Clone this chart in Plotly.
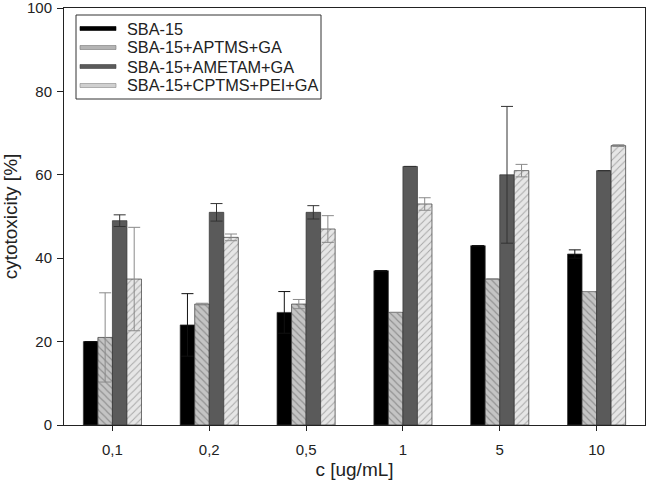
import plotly.graph_objects as go

categories = ["0,1", "0,2", "0,5", "1", "5", "10"]
series_names = ["SBA-15", "SBA-15+APTMS+GA", "SBA-15+AMETAM+GA", "SBA-15+CPTMS+PEI+GA"]
sba15 = [20, 24, 27, 37, 43, 41]
sba15_err = [0, 7.5, 5.0, 0, 0, 1.0]
aptms = [21, 29, 29, 27, 35, 32]
aptms_err = [10.7, 0.2, 1.1, 0, 0, 0]
ametam = [49, 51, 51, 62, 60, 61]
ametam_err = [1.4, 2.1, 1.6, 0, 16.4, 0]
cptms = [35, 45, 47, 53, 61, 67]
cptms_err = [12.4, 0.8, 3.2, 1.5, 1.5, 0.2]
y_ticks = [0, 20, 40, 60, 80, 100]

FONT = "Liberation Sans, Arial, sans-serif"
W, H = 647, 485
ML, MR, MT, MB = 64, 2, 8, 60
PW, PH = W - ML - MR, H - MT - MB


def px_x(px):
    return (px - ML) / PW


def px_y(py):
    return (H - MB - py) / PH


styles = [
    dict(color="#000000", pattern=None, err="#111111", leg="#000000", legline="#000000"),
    dict(color="#c4c4c4", pattern=dict(shape="\\", fgcolor="#5a5a5a", bgcolor="#c4c4c4", size=5, solidity=0.22), err="#8a8a8a", leg="#b4b4b4", legline="#777777"),
    dict(color="#5a5a5a", pattern=None, err="#333333", leg="#5a5a5a", legline="#444444"),
    dict(color="#e6e6e6", pattern=dict(shape="/", fgcolor="#6a6a6a", bgcolor="#e6e6e6", size=5, solidity=0.2), err="#8a8a8a", leg="#d0d0d0", legline="#888888"),
]
values = [sba15, aptms, ametam, cptms]
errors = [sba15_err, aptms_err, ametam_err, cptms_err]

fig = go.Figure()
for name, vals, errs, st in zip(series_names, values, errors, styles):
    marker = dict(color=st["color"], line=dict(color="#333333", width=0.7))
    if st["pattern"]:
        marker["pattern"] = st["pattern"]
    fig.add_trace(go.Bar(
        x=categories, y=vals, name=name, marker=marker, showlegend=False,
        error_y=dict(type="data", array=errs, color=st["err"], thickness=1, width=6),
    ))

# manual legend (box, swatches, labels)
shapes = [dict(type="rect", xref="paper", yref="paper",
               x0=px_x(76), x1=px_x(321), y0=px_y(99), y1=px_y(15),
               line=dict(color="#333333", width=1), fillcolor="white", layer="above")]
annotations = []
row_y = [28.5, 47.5, 66.5, 85.5]
for name, st, ry in zip(series_names, styles, row_y):
    shapes.append(dict(type="rect", xref="paper", yref="paper",
                       x0=px_x(80), x1=px_x(116), y0=px_y(ry + 2), y1=px_y(ry - 2),
                       line=dict(color=st["legline"], width=0.6), fillcolor=st["leg"], layer="above"))
    annotations.append(dict(text=name, xref="paper", yref="paper",
                            x=px_x(125), y=px_y(ry), xanchor="left", yanchor="middle",
                            showarrow=False, font=dict(family=FONT, size=16.3, color="#222222")))

fig.update_layout(
    width=W, height=H,
    margin=dict(l=ML, r=MR, t=MT, b=MB, autoexpand=False),
    paper_bgcolor="white", plot_bgcolor="white",
    font=dict(family=FONT, size=15, color="#222222"),
    barmode="group", bargap=0.4, bargroupgap=0,
    showlegend=False,
    shapes=shapes, annotations=annotations,
    xaxis=dict(
        title=dict(text="c [ug/mL]", font=dict(size=19), standoff=5),
        showline=True, linecolor="#222222", linewidth=1, mirror=True,
        ticks="outside", ticklen=5, tickcolor="#222222", ticklabelstandoff=6,
        showgrid=False, zeroline=False, automargin=False,
    ),
    yaxis=dict(
        title=dict(text="cytotoxicity [%]", font=dict(size=19), standoff=12),
        range=[0, 100], tickvals=y_ticks, ticklabeloverflow="allow",
        showline=True, linecolor="#222222", linewidth=1, mirror=True,
        ticks="outside", ticklen=6, tickcolor="#222222", ticklabelstandoff=2,
        showgrid=False, zeroline=False, automargin=False,
    ),
)

fig.write_html("out.html", config={"displayModeBar": False},
               post_script="document.body.style.margin='0';")
